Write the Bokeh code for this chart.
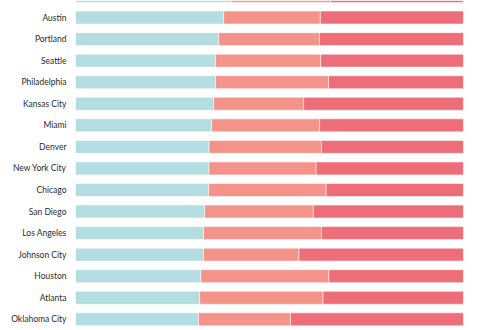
from bokeh.plotting import figure
from bokeh.models import Range1d, FixedTicker, ColumnDataSource
from bokeh.embed import file_html
from bokeh.resources import INLINE

cities = ["San Francisco", "Austin", "Portland", "Seattle", "Philadelphia", "Kansas City",
          "Miami", "Denver", "New York City", "Chicago", "San Diego", "Los Angeles",
          "Johnson City", "Houston", "Atlanta", "Oklahoma City"]
blue = [40.3, 38.2, 36.9, 36.1, 36.1, 35.6, 35.1, 34.4, 34.4, 34.3, 33.3, 33.0, 33.0, 32.3, 32.0, 31.7]
salmon = [25.4, 24.9, 26.0, 27.1, 29.1, 23.2, 27.8, 29.0, 27.6, 30.3, 28.0, 30.4, 24.6, 33.0, 31.8, 23.7]
red = [round(100 - b - s, 1) for b, s in zip(blue, salmon)]

colors = ["#b4dde1", "#f3938a", "#ed6d78"]
keys = ["blue", "salmon", "red"]

ypos = list(range(len(cities)))
source = ColumnDataSource(dict(y=ypos, blue=blue, salmon=salmon, red=red))

p = figure(width=500, height=330, output_backend="svg", toolbar_location=None,
           x_range=Range1d(0, 100), y_range=Range1d(15.52, 0.209),
           min_border_left=75, min_border_right=37, min_border_top=0, min_border_bottom=0)

p.hbar_stack(keys, y="y", height=0.6, color=colors, source=source,
             line_color="white", line_alpha=0.55, line_width=1)

p.xaxis.visible = False
p.xgrid.visible = False
p.ygrid.visible = False
p.outline_line_color = None

ax = p.yaxis[0]
ax.ticker = FixedTicker(ticks=ypos)
ax.major_label_overrides = {i: c for i, c in zip(ypos, cities)}
ax.axis_line_color = None
ax.major_tick_line_color = None
ax.minor_tick_line_color = None
ax.major_tick_out = 0
ax.major_tick_in = 0
ax.major_label_standoff = 9
ax.major_label_text_font = "Lato"
ax.major_label_text_font_size = "8.5px"
ax.major_label_text_color = "#2b2b2b"

open("out.html", "w").write(file_html(p, INLINE))
